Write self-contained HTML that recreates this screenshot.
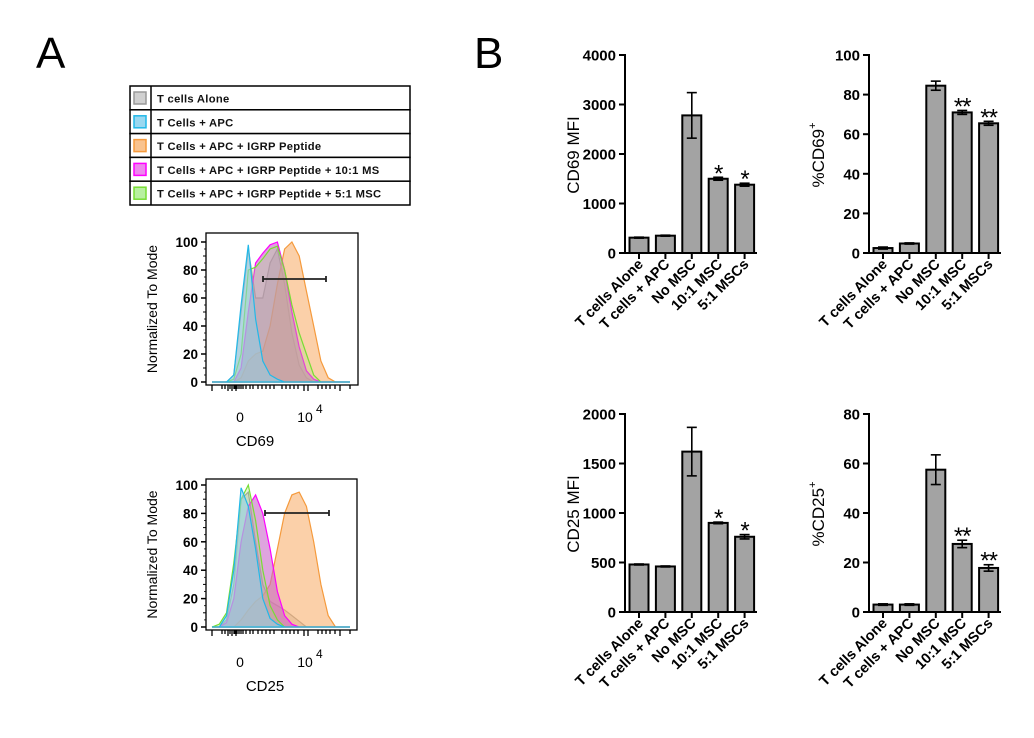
<!DOCTYPE html>
<html><head><meta charset="utf-8"><style>
html,body{margin:0;padding:0;background:#fff;width:1034px;height:738px;overflow:hidden;font-family:"Liberation Sans",sans-serif}
svg{position:absolute;left:0;top:0}
</style></head><body>
<svg id="fig" width="1034" height="738" viewBox="0 0 1034 738">
<text x="36" y="68" font-size="44" font-family="Liberation Sans">A</text>
<text x="474" y="68" font-size="44" font-family="Liberation Sans">B</text>
<g id="legend"></g>
<g id="hists"></g>
<g id="bars"></g>
</svg>
<script>
const NS='http://www.w3.org/2000/svg';
function mk(tag,attrs,parent,txt){const e=document.createElementNS(NS,tag);for(const k in attrs)e.setAttribute(k,attrs[k]);if(txt!==undefined)e.textContent=txt;parent.appendChild(e);return e;}

// ---------- Legend ----------
const legendLabels=["T cells Alone","T Cells + APC","T Cells + APC + IGRP Peptide","T Cells + APC + IGRP Peptide + 10:1 MS","T Cells + APC + IGRP Peptide + 5:1 MSC"];
const legendFill=["#d0d0d0","#9ad8f0","#f9c38f","#ee88ee","#b8f0a0"];
const legendStroke=["#999","#22b8e8","#f59a3c","#ff00ff","#77dd33"];
const lg=document.getElementById('legend');
for(let i=0;i<5;i++){
  const y=86+i*23.8;
  const r=mk('rect',{x:130,y:y,width:280,height:23.8,fill:'#fff',stroke:'#000','stroke-width':1.5},lg);
  
  mk('line',{x1:151,y1:y,x2:151,y2:y+23.8,stroke:'#000','stroke-width':1.5},lg);
  mk('rect',{x:134,y:y+6,width:12,height:12,fill:legendFill[i],stroke:legendStroke[i],'stroke-width':1.5},lg);
  const t=mk('text',{x:157,y:y+16.5,'font-size':11.2,'font-weight':'bold','letter-spacing':'0.3',fill:'#111'},lg,legendLabels[i]);
  
}

// ---------- Histograms ----------
const histOrder=["grey","orange","magenta","green","cyan"];
const histFill={grey:"#b8b8b8",cyan:"#8fd0e8",orange:"#f8b070",magenta:"#c868c8",green:"#a8e080"};
const histOpacity={grey:0.5,cyan:0.55,orange:0.6,magenta:0.6,green:0.3};
const histStroke={grey:"#999",cyan:"#22b8e8",orange:"#f59a3c",magenta:"#ff00ff",green:"#77dd33"};
const cd69Grey=[0,0,0,5,50,95,60,60,85,95,70,35,12,3,0,0,0,0,0,0];
const cd69Cyan=[0,0,0,5,55,98,45,15,5,2,0,0,0,0,0,0,0,0,0,0];
const cd69Orange=[0,0,0,0,3,15,20,22,40,70,95,100,90,65,40,15,3,0,0,0];
const cd69Magenta=[0,0,0,0,10,50,85,92,98,100,80,50,25,8,2,0,0,0,0,0];
const cd69Green=[0,0,0,2,20,80,82,88,95,97,80,55,35,20,5,0,0,0,0,0];
const cd25Grey=[0,0,5,30,90,95,60,30,18,15,12,8,4,0,0,0,0,0,0,0];
const cd25Cyan=[0,0,8,40,98,85,55,20,6,2,0,0,0,0,0,0,0,0,0,0];
const cd25Orange=[0,0,0,0,5,12,18,22,30,55,80,93,95,85,60,30,8,0,0,0];
const cd25Magenta=[0,0,3,20,60,85,93,80,55,25,8,2,0,0,0,0,0,0,0,0];
const cd25Green=[0,2,10,45,90,100,75,40,15,5,0,0,0,0,0,0,0,0,0,0];
const histTicks=[0,20,40,60,80,100];

function hist(cfg){
  const g=mk('g',{},document.getElementById('hists'));
  
  const {x0,x1,top,y0,y100,bottom}=cfg;
  const ys=v=>y0-(y0-y100)*v/100;
  const xs=i=>212+i*(350-212)/19;
  for(const k of histOrder){
    const d=cfg.data[k];
    let p='M'+xs(0)+','+y0;
    d.forEach((v,i)=>{p+=' L'+xs(i).toFixed(1)+','+ys(v).toFixed(1);});
    p+=' L'+xs(d.length-1)+','+y0+' Z';
    const pa=mk('path',{d:p,fill:histFill[k],'fill-opacity':histOpacity[k],stroke:histStroke[k],'stroke-width':1.2},g);
    
  }
  mk('rect',{x:x0,y:top,width:x1-x0,height:bottom-top,fill:'none',stroke:'#000','stroke-width':1.3},g);
  histTicks.forEach(t=>{
    mk('line',{x1:x0-5,y1:ys(t),x2:x0,y2:ys(t),stroke:'#000','stroke-width':1.5},g);
    const tl=mk('text',{x:x0-8,y:ys(t)+5,'text-anchor':'end','font-size':13.5,'font-weight':'bold'},g,t);
    
  });
  for(let t=10;t<100;t+=20){mk('line',{x1:x0-3,y1:ys(t),x2:x0,y2:ys(t),stroke:'#000','stroke-width':1},g);}
  for(let t=5;t<100;t+=10){mk('line',{x1:x0-2,y1:ys(t),x2:x0,y2:ys(t),stroke:'#000','stroke-width':0.8},g);}
  const minors=[212,222,225,228,230,232,234,235,236,237,239,241,243,246,250,253,258,262,266,270,274,282,286,290,294,298,304,308,318,322,326,330,335,340,350];
  minors.forEach(x=>mk('line',{x1:x,y1:bottom,x2:x,y2:bottom+(x%4===0?6:4),stroke:'#000','stroke-width':1.3},g));
  const yt=mk('text',{x:0,y:0,'font-size':14,'text-anchor':'middle',transform:`translate(157,${(top+bottom)/2}) rotate(-90)`},g,'Normalized To Mode');
  
  mk('text',{x:240,y:bottom+37,'font-size':14,'text-anchor':'middle'},g,'0');
  mk('text',{x:305,y:bottom+37,'font-size':14,'text-anchor':'middle'},g,'10');
  mk('text',{x:316,y:bottom+28,'font-size':12},g,'4');
  const xt=mk('text',{x:cfg.lx,y:bottom+61,'font-size':15,'text-anchor':'middle'},g,cfg.label);
  
  const gate=mk('g',{},g);
  
  mk('line',{x1:cfg.gx0,y1:cfg.gy,x2:cfg.gx1,y2:cfg.gy,stroke:'#222','stroke-width':1.8},gate);
  mk('line',{x1:cfg.gx0,y1:cfg.gy-3,x2:cfg.gx0,y2:cfg.gy+3,stroke:'#222','stroke-width':1.8},gate);
  mk('line',{x1:cfg.gx1,y1:cfg.gy-3,x2:cfg.gx1,y2:cfg.gy+3,stroke:'#222','stroke-width':1.8},gate);
}
hist({name:'cd69-histogram',x0:206,x1:358,top:233,y0:382,y100:242,bottom:385,label:'CD69',lx:255,gx0:263,gx1:326,gy:279,
  data:{grey:cd69Grey,cyan:cd69Cyan,orange:cd69Orange,magenta:cd69Magenta,green:cd69Green}});
hist({name:'cd25-histogram',x0:206,x1:357,top:479,y0:627,y100:485,bottom:630,label:'CD25',lx:265,gx0:265,gx1:329,gy:513,
  data:{grey:cd25Grey,cyan:cd25Cyan,orange:cd25Orange,magenta:cd25Magenta,green:cd25Green}});

// ---------- Bar charts ----------
const categories=["T cells Alone","T cells + APC","No MSC","10:1 MSC","5:1 MSCs"];
const cd69Mfi=[310,350,2780,1500,1380];
const cd69MfiErr=[10,10,460,30,30];
const cd69MfiStars=["","","","*","*"];
const cd69MfiTicks=[0,1000,2000,3000,4000];
const cd69Pct=[2.5,4.8,84.5,71,65.5];
const cd69PctErr=[0.5,0.3,2.3,1,1];
const cd69PctStars=["","","","**","**"];
const cd69PctTicks=[0,20,40,60,80,100];
const cd25Mfi=[480,460,1620,900,760];
const cd25MfiErr=[5,5,245,8,22];
const cd25MfiStars=["","","","*","*"];
const cd25MfiTicks=[0,500,1000,1500,2000];
const cd25Pct=[3,3,57.5,27.5,17.8];
const cd25PctErr=[0.3,0.3,6,1.5,1.3];
const cd25PctStars=["","","","**","**"];
const cd25PctTicks=[0,20,40,60,80];

function bar(cfg){
  const g=mk('g',{},document.getElementById('bars'));
  
  const {ax,y0,yTop,max,vals,err,stars,ticks}=cfg;
  const ys=v=>y0-(y0-yTop)*v/max;
  const xs=i=>ax+14+i*26.4;
  const xEnd=ax+132;
  vals.forEach((v,i)=>{
    const b=mk('rect',{x:xs(i)-9.5,y:ys(v),width:19,height:y0-ys(v),fill:'#a3a3a3',stroke:'#000','stroke-width':2},g);
    
    const e=err[i];
    if(e>0){
      const eg=mk('g',{},g);
      
      mk('line',{x1:xs(i),y1:ys(v+e),x2:xs(i),y2:ys(v-e),stroke:'#000','stroke-width':1.6},eg);
      mk('line',{x1:xs(i)-5,y1:ys(v+e),x2:xs(i)+5,y2:ys(v+e),stroke:'#000','stroke-width':1.6},eg);
      mk('line',{x1:xs(i)-5,y1:ys(v-e),x2:xs(i)+5,y2:ys(v-e),stroke:'#000','stroke-width':1.6},eg);
    }
    if(stars[i]){
      const s=mk('text',{x:xs(i),y:ys(v+e)+4,'text-anchor':'middle','font-size':24,'letter-spacing':'-1'},g,stars[i]);
      
    }
    mk('line',{x1:xs(i),y1:y0,x2:xs(i),y2:y0+6,stroke:'#000','stroke-width':2},g);
    const cl=mk('text',{x:0,y:0,'text-anchor':'end','font-size':14.5,'font-weight':'bold',transform:`translate(${xs(i)+5},${y0+12}) rotate(-45)`},g,categories[i]);
    
  });
  mk('line',{x1:ax,y1:yTop-1,x2:ax,y2:y0,stroke:'#000','stroke-width':2},g);
  mk('line',{x1:ax,y1:y0,x2:xEnd,y2:y0,stroke:'#000','stroke-width':2},g);
  ticks.forEach(t=>{
    mk('line',{x1:ax-6,y1:ys(t),x2:ax,y2:ys(t),stroke:'#000','stroke-width':2},g);
    const tl=mk('text',{x:ax-9,y:ys(t)+5.5,'text-anchor':'end','font-size':15,'font-weight':'bold'},g,t);
    
  });
  const yt=mk('text',{x:0,y:0,'text-anchor':'middle','font-size':17,transform:`translate(${cfg.tx},${cfg.ty}) rotate(-90)`},g);
  
  yt.appendChild(document.createTextNode(cfg.title));
  if(cfg.sup){mk('tspan',{'font-size':11,dy:-8},yt,cfg.sup);}
}
bar({name:'cd69-mfi-chart',ax:625,y0:253,yTop:55,max:4000,vals:cd69Mfi,err:cd69MfiErr,stars:cd69MfiStars,ticks:cd69MfiTicks,title:'CD69 MFI',tx:579,ty:155});
bar({name:'cd69-percent-chart',ax:869,y0:253,yTop:55,max:100,vals:cd69Pct,err:cd69PctErr,stars:cd69PctStars,ticks:cd69PctTicks,title:'%CD69',sup:'+',tx:824,ty:155});
bar({name:'cd25-mfi-chart',ax:625,y0:612,yTop:414,max:2000,vals:cd25Mfi,err:cd25MfiErr,stars:cd25MfiStars,ticks:cd25MfiTicks,title:'CD25 MFI',tx:579,ty:514});
bar({name:'cd25-percent-chart',ax:869,y0:612,yTop:414,max:80,vals:cd25Pct,err:cd25PctErr,stars:cd25PctStars,ticks:cd25PctTicks,title:'%CD25',sup:'+',tx:824,ty:514});
</script>
</body></html>
